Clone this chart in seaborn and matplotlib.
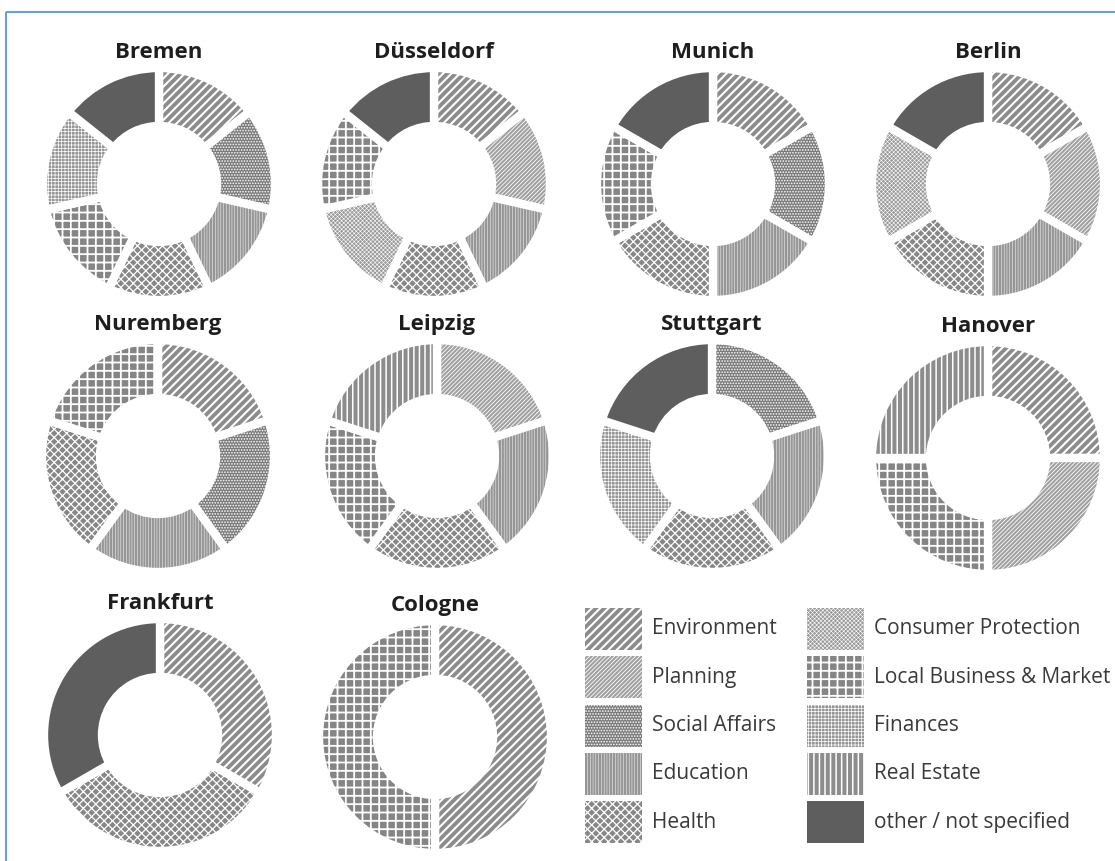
import matplotlib
matplotlib.use("Agg")
import matplotlib.pyplot as plt
from matplotlib.patches import Rectangle
import seaborn as sns

sns.set_theme(style="white")
plt.rcParams['font.family'] = ['Open Sans', 'DejaVu Sans']

# ---------------- data ----------------
categories = ["Environment", "Planning", "Social Affairs", "Education", "Health",
              "Consumer Protection", "Local Business & Market", "Finances",
              "Real Estate", "other / not specified"]

cities = ["Bremen", "Düsseldorf", "Munich", "Berlin", "Nuremberg",
          "Leipzig", "Stuttgart", "Hanover", "Frankfurt", "Cologne"]

bremen_depts = ["Environment", "Social Affairs", "Education", "Health",
                "Local Business & Market", "Finances", "other / not specified"]
bremen_values = [1, 1, 1, 1, 1, 1, 1]
duesseldorf_depts = ["Environment", "Planning", "Education", "Health",
                     "Consumer Protection", "Local Business & Market", "other / not specified"]
duesseldorf_values = [1, 1, 1, 1, 1, 1, 1]
munich_depts = ["Environment", "Social Affairs", "Education", "Health",
                "Local Business & Market", "other / not specified"]
munich_values = [1, 1, 1, 1, 1, 1]
berlin_depts = ["Environment", "Planning", "Education", "Health",
                "Consumer Protection", "other / not specified"]
berlin_values = [1, 1, 1, 1, 1, 1]
nuremberg_depts = ["Environment", "Social Affairs", "Education", "Health",
                   "Local Business & Market"]
nuremberg_values = [1, 1, 1, 1, 1]
leipzig_depts = ["Planning", "Education", "Health", "Local Business & Market", "Real Estate"]
leipzig_values = [1, 1, 1, 1, 1]
stuttgart_depts = ["Social Affairs", "Education", "Health", "Finances", "other / not specified"]
stuttgart_values = [1, 1, 1, 1, 1]
hanover_depts = ["Environment", "Planning", "Local Business & Market", "Real Estate"]
hanover_values = [1, 1, 1, 1]
frankfurt_depts = ["Environment", "Health", "other / not specified"]
frankfurt_values = [1, 1, 1]
cologne_depts = ["Environment", "Local Business & Market"]
cologne_values = [1, 1]

city_depts = [bremen_depts, duesseldorf_depts, munich_depts, berlin_depts, nuremberg_depts,
              leipzig_depts, stuttgart_depts, hanover_depts, frankfurt_depts, cologne_depts]
city_values = [bremen_values, duesseldorf_values, munich_values, berlin_values, nuremberg_values,
               leipzig_values, stuttgart_values, hanover_values, frankfurt_values, cologne_values]

# ---------------- styles ----------------
face = {
    "Environment": "#8c8c8c",
    "Planning": "#a0a0a0",
    "Social Affairs": "#7a7a7a",
    "Education": "#969696",
    "Health": "#878787",
    "Consumer Protection": "#9a9a9a",
    "Local Business & Market": "#858585",
    "Finances": "#959595",
    "Real Estate": "#8c8c8c",
    "other / not specified": "#5e5e5e",
}
hatch = {
    "Environment": "////",
    "Planning": "////////",
    "Social Affairs": "......",
    "Education": "||||||",
    "Health": "xxxx",
    "Consumer Protection": "xxxxxxxx",
    "Local Business & Market": "++",
    "Finances": "+++++",
    "Real Estate": "|||",
    "other / not specified": None,
}
hatch_lw = {
    "Environment": 1.5,
    "Planning": 0.6,
    "Social Affairs": 0.8,
    "Education": 0.35,
    "Health": 0.9,
    "Consumer Protection": 0.4,
    "Local Business & Market": 1.3,
    "Finances": 0.5,
    "Real Estate": 1.1,
    "other / not specified": 1.0,
}

W, H = 1115, 861
fig = plt.figure(figsize=(W / 100, H / 100), dpi=100)

# overlay axes in pixel coordinates (frame + legend)
bg = fig.add_axes([0, 0, 1, 1])
bg.set_xlim(0, W)
bg.set_ylim(H, 0)
bg.set_axis_off()
bg.add_patch(Rectangle((6, 12), 1115, 861, fill=False, edgecolor="#6a9fd8", linewidth=1.5))

centers = [(159, 184), (434, 184), (713, 184), (988, 184),
           (158, 456), (437, 456), (712, 456), (988, 458),
           (160, 735), (435, 737)]
R = 116

for city, depts, vals, (cx, cy) in zip(cities, city_depts, city_values, centers):
    ax = fig.add_axes([(cx - R) / W, 1 - (cy + R) / H, 2 * R / W, 2 * R / H])
    wedges, _ = ax.pie(vals, colors=[face[d] for d in depts],
                       hatch=[hatch[d] for d in depts],
                       startangle=90, counterclock=False, radius=1,
                       wedgeprops=dict(width=0.5, edgecolor="white", linewidth=6))
    for w, d in zip(wedges, depts):
        try:
            w.set_hatch_linewidth(hatch_lw[d])
        except AttributeError:
            pass
    ax.set_xlim(-1, 1)
    ax.set_ylim(-1, 1)
    ax.set_aspect("equal")
    ax.set_axis_off()
    ax.text(0, 1.13, city, ha="center", va="center", fontsize=16,
            fontweight="bold", color="#1e1e1e")

# legend
col_x = [585, 807]
row_y0, row_pitch, box_w, box_h = 608, 48.3, 57, 42
for i, cat in enumerate(categories):
    col, row = divmod(i, 5)
    x = col_x[col]
    y = row_y0 + row * row_pitch
    r = Rectangle((x, y), box_w, box_h, facecolor=face[cat], edgecolor="white",
                  linewidth=0, hatch=hatch[cat])
    try:
        r.set_hatch_linewidth(hatch_lw[cat])
    except AttributeError:
        pass
    bg.add_patch(r)
    bg.text(x + box_w + 10, y + box_h / 2, cat, ha="left", va="center",
            fontsize=15, color="#3a3a3a")

fig.savefig("out.png", dpi=100)
